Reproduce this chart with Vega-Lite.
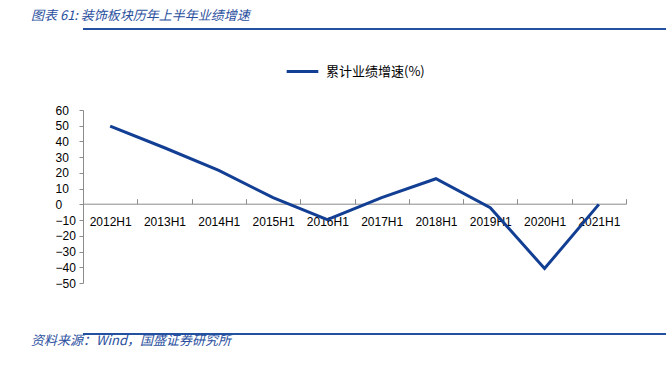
{
  "$schema": "https://vega.github.io/schema/vega-lite/v6.json",
  "padding": {"left": 20, "top": 10, "right": 0, "bottom": 0},
  "background": "white",
  "spacing": 0,
  "resolve": {"legend": {"color": "independent"}, "scale": {"color": "independent"}},
  "config": {
    "view": {"stroke": null},
    "font": "Liberation Sans"
  },
  "vconcat": [
    {
      "width": 583,
      "height": 25,
      "title": {
        "text": "图表 61: 装饰板块历年上半年业绩增速",
        "anchor": "start",
        "orient": "top",
        "font": "Noto Sans CJK SC",
        "fontSize": 13,
        "fontStyle": "italic",
        "fontWeight": "normal",
        "color": "#2a4f9e",
        "dx": -51,
        "offset": 5
      },
      "data": {"values": [{"p": 1}]},
      "mark": {"type": "rule", "color": "#2350a0", "strokeWidth": 2},
      "encoding": {
        "y": {"field": "p", "type": "quantitative", "scale": {"domain": [0, 1]}, "axis": null}
      }
    },
    {
      "width": 543,
      "height": 173,
      "data": {
        "values": [
          {"period": "2012H1", "value": 49.7, "series": "累计业绩增速(%)"},
          {"period": "2013H1", "value": 36.0, "series": "累计业绩增速(%)"},
          {"period": "2014H1", "value": 21.6, "series": "累计业绩增速(%)"},
          {"period": "2015H1", "value": 4.3, "series": "累计业绩增速(%)"},
          {"period": "2016H1", "value": -9.7, "series": "累计业绩增速(%)"},
          {"period": "2017H1", "value": 4.3, "series": "累计业绩增速(%)"},
          {"period": "2018H1", "value": 16.3, "series": "累计业绩增速(%)"},
          {"period": "2019H1", "value": -2.1, "series": "累计业绩增速(%)"},
          {"period": "2020H1", "value": -40.8, "series": "累计业绩增速(%)"},
          {"period": "2021H1", "value": 0, "series": "累计业绩增速(%)"}
        ]
      },
      "mark": {"type": "line", "strokeWidth": 3},
      "encoding": {
        "x": {
          "field": "period",
          "type": "ordinal",
          "sort": null,
          "scale": {"type": "band", "paddingInner": 0, "paddingOuter": 0},
          "axis": {
            "title": null,
            "labelAngle": 0,
            "offset": -79.3,
            "tickBand": "extent",
            "tickSize": -5,
            "labelPadding": 18,
            "labelFont": "Liberation Sans",
            "labelFontSize": 12,
            "labelColor": "#000000",
            "domainColor": "#8c8c8c",
            "tickColor": "#8c8c8c",
            "grid": false
          }
        },
        "y": {
          "field": "value",
          "type": "quantitative",
          "scale": {"domain": [-50, 60], "nice": false, "zero": false},
          "axis": {
            "title": null,
            "values": [-50, -40, -30, -20, -10, 0, 10, 20, 30, 40, 50, 60],
            "labelAlign": "left",
            "tickSize": 4,
            "labelPadding": 24,
            "minExtent": 63,
            "labelFont": "Liberation Sans",
            "labelFontSize": 12,
            "labelColor": "#000000",
            "domainColor": "#8c8c8c",
            "tickColor": "#8c8c8c",
            "grid": false
          }
        },
        "color": {
          "field": "series",
          "type": "nominal",
          "scale": {"range": ["#123f94"]},
          "legend": {
            "title": null,
            "orient": "none",
            "legendX": 202,
            "legendY": -56,
            "symbolType": "stroke",
            "symbolSize": 1000,
            "symbolStrokeWidth": 3,
            "labelFont": "Noto Sans CJK SC",
            "labelFontSize": 13,
            "labelColor": "#000000",
            "labelOffset": 6
          }
        }
      }
    },
    {
      "width": 583,
      "height": 45,
      "title": {
        "text": "资料来源：Wind，国盛证券研究所",
        "anchor": "start",
        "orient": "bottom",
        "font": "Noto Sans CJK SC",
        "fontSize": 13,
        "fontStyle": "italic",
        "fontWeight": "normal",
        "color": "#2a4f9e",
        "dx": -51,
        "offset": 0
      },
      "data": {"values": [{"p": 0}]},
      "mark": {"type": "rule", "color": "#2350a0", "strokeWidth": 2},
      "encoding": {
        "y": {"field": "p", "type": "quantitative", "scale": {"domain": [0, 1]}, "axis": null}
      }
    }
  ]
}
